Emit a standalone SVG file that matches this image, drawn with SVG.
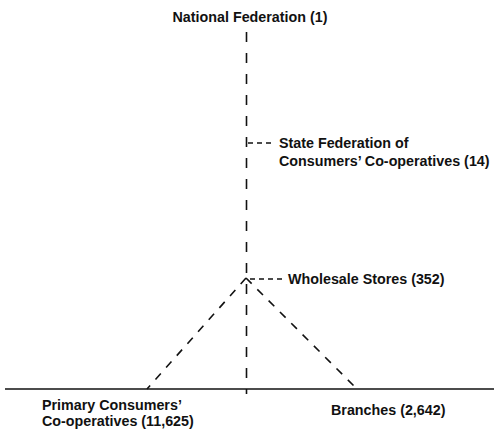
<svg xmlns="http://www.w3.org/2000/svg" width="494" height="429" viewBox="0 0 494 429">
<style>
text{font-family:"Liberation Sans",Arial,sans-serif;font-weight:bold;font-size:14.3px;fill:#111}
.d{stroke:#111;stroke-width:1.6;fill:none}
.v{stroke-dasharray:10 11}
.g{stroke-dasharray:8 8}
.s{stroke-dasharray:5 4}
</style>
<rect width="494" height="429" fill="#fff"/>
<g id="connectors">
<line class="d v" x1="246.5" y1="32" x2="246.5" y2="394"/>
<line class="d" x1="5" y1="389" x2="494" y2="389"/>
<line class="d g" x1="246" y1="278" x2="147" y2="389"/>
<line class="d g" x1="246" y1="278" x2="357" y2="389"/>
<line class="d s" x1="248" y1="143" x2="274" y2="143"/>
<line class="d s" x1="250" y1="279" x2="283" y2="279"/>
</g>
<g id="national"><text x="250" y="22" text-anchor="middle">National Federation (1)</text></g>
<g id="state"><text x="279" y="148">State Federation of</text><text x="279" y="166">Consumers’ Co-operatives (14)</text></g>
<g id="wholesale"><text x="288" y="284">Wholesale Stores (352)</text></g>
<g id="primary"><text x="42" y="410">Primary Consumers’</text><text x="42" y="426">Co-operatives (11,625)</text></g>
<g id="branches"><text x="331" y="415">Branches (2,642)</text></g>
</svg>
